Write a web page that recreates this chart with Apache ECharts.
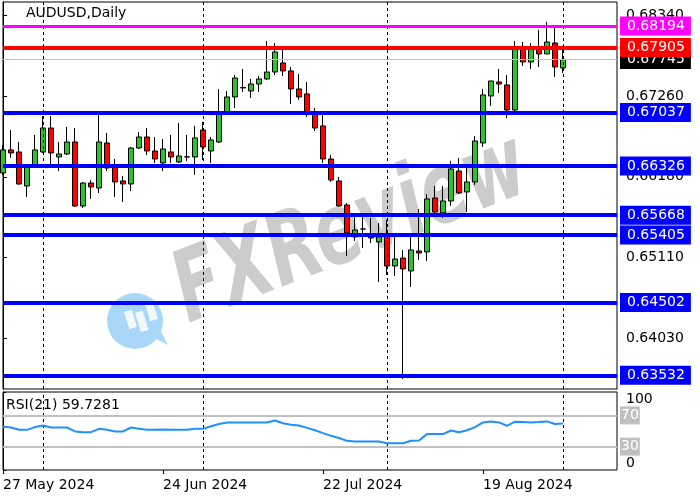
<!DOCTYPE html>
<html><head><meta charset="utf-8">
<script src="https://cdn.jsdelivr.net/npm/echarts@6/dist/echarts.min.js"></script>
<style>html,body{margin:0;padding:0;background:#fff}#c{width:700px;height:500px}</style>
</head><body><div id="c"></div>
<script>
const symbolTitle = 'AUDUSD,Daily';
const rsiTitle = 'RSI(21) 59.7281';
const dates = [
'2024-05-27','2024-05-28','2024-05-29','2024-05-30','2024-05-31',
'2024-06-03','2024-06-04','2024-06-05','2024-06-06','2024-06-07',
'2024-06-10','2024-06-11','2024-06-12','2024-06-13','2024-06-14',
'2024-06-17','2024-06-18','2024-06-19','2024-06-20','2024-06-21',
'2024-06-24','2024-06-25','2024-06-26','2024-06-27','2024-06-28',
'2024-07-01','2024-07-02','2024-07-03','2024-07-04','2024-07-05',
'2024-07-08','2024-07-09','2024-07-10','2024-07-11','2024-07-12',
'2024-07-15','2024-07-16','2024-07-17','2024-07-18','2024-07-19',
'2024-07-22','2024-07-23','2024-07-24','2024-07-25','2024-07-26',
'2024-07-29','2024-07-30','2024-07-31','2024-08-01','2024-08-02',
'2024-08-05','2024-08-06','2024-08-07','2024-08-08','2024-08-09',
'2024-08-12','2024-08-13','2024-08-14','2024-08-15','2024-08-16',
'2024-08-19','2024-08-20','2024-08-21','2024-08-22','2024-08-23',
'2024-08-26','2024-08-27','2024-08-28','2024-08-29','2024-08-30',
'2024-09-02'];
const openP = [
0.66232,0.66539,0.66512,0.66058,0.66312,
0.66512,0.66832,0.66445,0.66485,0.66645,
0.65791,0.66098,0.66031,0.66632,0.66312,
0.66125,0.66085,0.66565,0.66712,0.66525,
0.66365,0.66512,0.66378,0.66445,0.66445,
0.66805,0.66525,0.66645,0.67046,0.67246,
0.67366,0.67326,0.67419,0.67486,0.67579,
0.67700,0.67593,0.67353,0.67286,0.67032,
0.66859,0.66418,0.66125,0.65805,0.65378,
0.65484,0.65404,0.65311,0.65404,0.64991,
0.65097,0.64924,0.65191,0.65178,0.65898,
0.65698,0.65858,0.66258,0.65978,0.66112,
0.66632,0.67259,0.67446,0.67406,0.67072,
0.67913,0.67713,0.67913,0.67820,0.67966,
0.67633];
const closeP = [
0.66539,0.66499,0.66085,0.66312,0.66539,
0.66832,0.66499,0.66485,0.66645,0.65791,
0.66098,0.66045,0.66645,0.66298,0.66112,
0.66085,0.66565,0.66712,0.66525,0.66418,
0.66552,0.66445,0.66458,0.66448,0.66699,
0.66579,0.66672,0.67046,0.67246,0.67499,
0.67372,0.67419,0.67486,0.67579,0.67846,
0.67593,0.67353,0.67246,0.67032,0.66832,
0.66418,0.66138,0.65791,0.65431,0.65471,
0.65484,0.65364,0.65378,0.64991,0.65084,
0.64951,0.65204,0.65164,0.65885,0.65711,
0.65858,0.66285,0.65965,0.66112,0.66659,
0.67273,0.67459,0.67419,0.67072,0.67913,
0.67713,0.67913,0.67820,0.67980,0.67646,
0.67745];
const lowP = [
0.66205,0.66432,0.66072,0.65911,0.66298,
0.66499,0.66298,0.66258,0.66472,0.65778,
0.65765,0.65885,0.65965,0.66258,0.65911,
0.65845,0.65991,0.66552,0.66472,0.66365,
0.66258,0.66365,0.66365,0.66392,0.66205,
0.66405,0.66365,0.66632,0.67032,0.67099,
0.67313,0.67232,0.67313,0.67473,0.67539,
0.67526,0.67152,0.67206,0.66979,0.66792,
0.66365,0.66112,0.65778,0.65124,0.65324,
0.65231,0.65298,0.64777,0.64871,0.64857,
0.63483,0.64710,0.65071,0.65057,0.65685,
0.65631,0.65791,0.65951,0.65711,0.66072,
0.66579,0.67126,0.67299,0.66966,0.67006,
0.67659,0.67619,0.67646,0.67820,0.67513,
0.67566];
const highP = [
0.66605,0.66805,0.66645,0.66325,0.66739,
0.66992,0.66992,0.66645,0.66846,0.66832,
0.66112,0.66138,0.67032,0.66765,0.66418,
0.66192,0.66579,0.66779,0.66832,0.66712,
0.66685,0.66739,0.66899,0.66739,0.66859,
0.66912,0.66712,0.67353,0.67326,0.67539,
0.67619,0.67486,0.67526,0.67993,0.67966,
0.67886,0.67646,0.67553,0.67446,0.67099,
0.67032,0.66472,0.66178,0.65831,0.65645,
0.65645,0.65631,0.65564,0.65605,0.65400,
0.65204,0.65378,0.65751,0.65951,0.66058,
0.66058,0.66392,0.66432,0.66312,0.66725,
0.67353,0.67459,0.67619,0.67539,0.67993,
0.67980,0.67966,0.68140,0.68247,0.68180,
0.67873];
const rsi = [
55.8,54.5,51.5,51.5,55.0,
57.0,54.5,54.5,54.5,49.4,
48.5,48.5,52.8,51.5,49.4,
49.4,54.5,53.0,51.5,51.5,
52.0,51.5,51.5,51.5,52.8,
52.8,56.0,59.0,61.0,61.0,
61.0,61.0,61.0,61.0,63.5,
60.0,58.0,57.0,54.0,51.0,
47.3,43.8,41.0,37.4,36.5,
36.5,36.5,36.5,34.4,34.4,
34.4,37.4,37.7,46.0,46.0,
46.0,50.6,48.5,51.0,55.0,
61.0,62.3,61.0,56.7,62.0,
61.5,61.0,61.5,62.3,58.9,
59.7281];
const levels = [0.68194, 0.67905, 0.67037, 0.66326, 0.65668, 0.65405, 0.64502, 0.63532];
const levelColors = ['#ff00ff', '#ff0000', '#0000ff', '#0000ff', '#0000ff', '#0000ff', '#0000ff', '#0000ff'];
const levelWidths = [3, 4, 4, 4, 4, 4, 4, 4];
const lastPrice = 0.67745;
const priceTicks = [0.64030, 0.65110, 0.66180, 0.67260, 0.68340];
const dateTickIdx = [0, 20, 40, 60];
const monthStartIdx = [5, 25, 48, 70];
const rsiLevels = [70, 30];
const rsiTicks = [0, 100];

const FONT = 'DejaVu Sans';
const MONTHS = ['Jan','Feb','Mar','Apr','May','Jun','Jul','Aug','Sep','Oct','Nov','Dec'];
function fmtDate(s) {
  const p = s.split('-');
  return (+p[2]) + ' ' + MONTHS[+p[1] - 1] + ' ' + p[0];
}
const X_MIN = 0, X_MAX = 76.75;

const candleData = dates.map((d, i) => [i, openP[i], closeP[i], lowP[i], highP[i]]);
const rsiData = rsi.map((v, i) => [i, v]);

const sepLines = monthStartIdx.map(i => ({
  xAxis: i,
  lineStyle: { color: '#000', type: [3, 3], width: 1 },
  label: { show: false }
}));

function boxLabel(bg, pad, fmt) {
  return { show: true, position: 'end', distance: 3, color: '#fff', backgroundColor: bg,
           padding: pad, fontSize: 14, lineHeight: 15, fontFamily: FONT, formatter: fmt };
}
const fmt5 = p => Number(p.value).toFixed(5);

const levelLines = [{
  yAxis: lastPrice,
  lineStyle: { color: '#c0c0c0', width: 1, type: 'solid' },
  label: boxLabel('#000', [2, 6, 2, 7], fmt5)
}].concat(levels.map((v, k) => ({
  yAxis: v,
  lineStyle: { color: levelColors[k], width: levelWidths[k], type: 'solid' },
  label: boxLabel(levelColors[k], [2, 6, 2, 7], fmt5)
})));

const rsiLines = rsiLevels.map(v => ({
  yAxis: v,
  lineStyle: { color: '#c0c0c0', width: 2, type: 'solid' },
  label: boxLabel('#c0c0c0', [2, 1, 1, 1], p => String(Math.round(p.value)))
}));

const chart = echarts.init(document.getElementById('c'), null, { renderer: 'canvas' });
chart.setOption({
  animation: false,
  backgroundColor: '#fff',
  textStyle: { fontFamily: FONT },
  title: [
    { text: symbolTitle, left: 26, top: 6, padding: 0,
      textStyle: { fontSize: 14, fontWeight: 'normal', color: '#000', fontFamily: FONT } },
    { text: rsiTitle, left: 6, top: 398, padding: 0,
      textStyle: { fontSize: 14, fontWeight: 'normal', color: '#000', fontFamily: FONT } }
  ],
  graphic: {
    elements: [
      { type: 'text', z: 1, x: 352, y: 232, rotation: 0.37, scaleY: 1.45,
        style: { text: 'FXReview', font: 'italic bold 68px DejaVu Sans', fill: '#cccccc',
                 textAlign: 'center', textVerticalAlign: 'middle' } },
      { type: 'circle', z: 1, shape: { cx: 135, cy: 321, r: 28 }, style: { fill: '#a9d7f7' } },
      { type: 'polygon', z: 1, shape: { points: [[150, 336], [168, 345], [158, 326]] }, style: { fill: '#a9d7f7' } },
      { type: 'rect', z: 1, x: 124, y: 312, rotation: 0.3, shape: { x: 0, y: 0, width: 8, height: 18 }, style: { fill: '#ffffff', opacity: 0.85 } },
      { type: 'rect', z: 1, x: 135, y: 313, rotation: 0.3, shape: { x: 0, y: 0, width: 8, height: 20 }, style: { fill: '#ffffff', opacity: 0.85 } },
      { type: 'rect', z: 1, x: 145, y: 304, rotation: 0.3, shape: { x: 0, y: 0, width: 8, height: 18 }, style: { fill: '#ffffff', opacity: 0.85 } }
    ]
  },
  grid: [
    { left: 3, top: 2, width: 614, height: 387, show: true, borderColor: '#000', borderWidth: 1, backgroundColor: 'transparent' },
    { left: 3, top: 392, width: 614, height: 78, show: true, borderColor: '#000', borderWidth: 1, backgroundColor: 'transparent' }
  ],
  xAxis: [
    { type: 'value', gridIndex: 0, min: X_MIN, max: X_MAX, show: false, splitLine: { show: false } },
    { type: 'value', gridIndex: 1, min: X_MIN, max: X_MAX,
      axisLine: { show: false },
      splitLine: { show: false },
      axisTick: { show: true, customValues: dateTickIdx, length: 4, lineStyle: { color: '#000' } },
      axisLabel: { show: true, customValues: dateTickIdx, align: 'left', margin: 8, color: '#000',
                   fontSize: 14, fontFamily: FONT, formatter: v => fmtDate(dates[Math.round(v)]) } }
  ],
  yAxis: [
    { type: 'value', gridIndex: 0, position: 'right', min: 0.63349, max: 0.68513,
      axisLine: { show: true, lineStyle: { color: '#000' } },
      splitLine: { show: false },
      axisTick: { show: true, customValues: priceTicks, length: 4, lineStyle: { color: '#000' } },
      axisLabel: { show: true, customValues: priceTicks, margin: 9, color: '#000', fontSize: 14,
                   fontFamily: FONT, formatter: v => v.toFixed(5) } },
    { type: 'value', gridIndex: 1, position: 'right', min: 0, max: 100,
      axisLine: { show: true, lineStyle: { color: '#000' } },
      splitLine: { show: false },
      axisTick: { show: true, customValues: rsiTicks, length: 3, lineStyle: { color: '#000' } },
      axisLabel: { show: true, customValues: rsiTicks, margin: 9, color: '#000', fontSize: 14,
                   fontFamily: FONT, verticalAlignMinLabel: 'bottom', verticalAlignMaxLabel: 'top' } }
  ],
  series: [
    { type: 'candlestick', xAxisIndex: 0, yAxisIndex: 0, z: 3,
      data: candleData, encode: { x: 0, y: [1, 2, 3, 4] },
      barWidth: 5,
      itemStyle: { color: '#2fbf2f', color0: '#ff0000', borderColor: '#000', borderColor0: '#000',
                   borderColorDoji: '#000', borderWidth: 1 },
      markLine: { silent: true, symbol: ['none', 'none'], z: 5, animation: false, precision: 5,
                  data: sepLines.concat(levelLines) } },
    { type: 'line', xAxisIndex: 1, yAxisIndex: 1, z: 3,
      data: rsiData, showSymbol: false, symbol: 'none',
      lineStyle: { color: '#1e90ff', width: 2 },
      markLine: { silent: true, symbol: ['none', 'none'], z: 2, animation: false, precision: 2,
                  data: sepLines.concat(rsiLines) } }
  ]
});
</script>
</body></html>
